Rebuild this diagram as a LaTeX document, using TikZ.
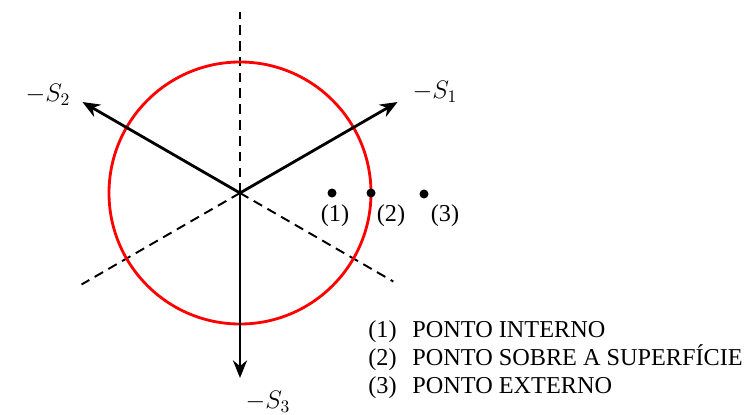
\documentclass[tikz,border=0pt]{standalone}
\usepackage{fontspec}
\setmainfont{Liberation Serif}
\usetikzlibrary{arrows.meta}
\begin{document}
\begin{tikzpicture}[font=\fontsize{13.8}{16}\selectfont, line join=round, >={Stealth[length=10pt,width=8pt]}]
	\useasboundingbox (-4.8,-4.42) rectangle (10.1,3.86);
	\path (0,0) coordinate (O)
	(30:3.64) coordinate (S1)
	(150:3.64) coordinate (S2)
	(270:3.7) coordinate (S3)
	(90:3.62) coordinate (D1)
	(210:3.66) coordinate (D2)
	(-30:3.54) coordinate (D3);
	% eixos tracejados
	\foreach \d in {D1,D2,D3} \draw[line width=1.1pt, dash pattern=on 5.5pt off 3.5pt] (O)--(\d);
	% superficie
	\draw[red, line width=1.6pt] (O) circle (2.62);
	% tensoes principais
	\foreach \s in {S1,S2,S3} \draw[line width=1.6pt,->] (O)--(\s);
	\node (lS1) at (3.9,2.02) {$-S_1$};
	\node (lS2) at (-3.84,1.96) {$-S_2$};
	\node (lS3) at (0.56,-4.18) {$-S_3$};
	% pontos
	\foreach \p/\x/\y/\lx in {1/1.84/0/1.9, 2/2.62/0/3.02, 3/3.68/-0.02/4.1} {
		\fill (\x,\y) coordinate (P\p) circle (0.09);
		\node (lP\p) at (\lx,-0.46) {(\p)};
	}
	% legenda
	\foreach \n/\t/\y in {1/PONTO INTERNO/-2.88, 2/PONTO SOBRE A SUPERFÍCIE/-3.44, 3/PONTO EXTERNO/-4.0}
		\node[anchor=base west, inner sep=0pt] (leg\n) at (2.56,\y) {(\n)\hspace{9pt}\t};
\end{tikzpicture}
\end{document}
